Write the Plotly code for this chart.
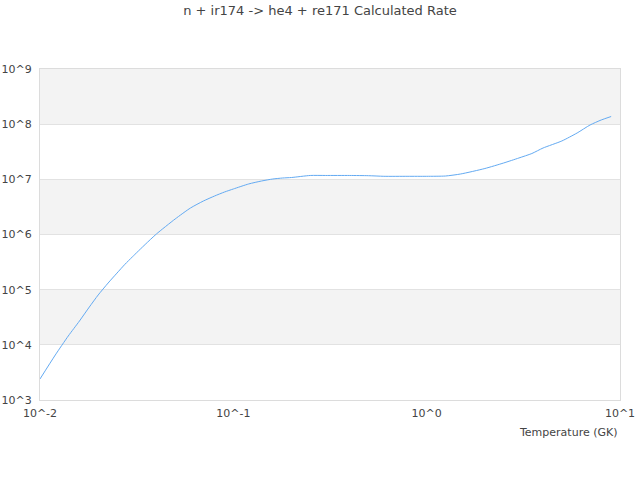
import plotly.graph_objects as go

title = "n + ir174 -> he4 + re171 Calculated Rate"
x_title = "Temperature (GK)"

temperature = [0.01, 0.012, 0.014, 0.016, 0.018, 0.02, 0.0225, 0.025, 0.0275, 0.03,
               0.035, 0.04, 0.05, 0.06, 0.07, 0.08, 0.09, 0.1, 0.12, 0.14,
               0.16, 0.18, 0.2, 0.25, 0.3, 0.4, 0.5, 0.6, 0.8, 1.0,
               1.25, 1.5, 2.0, 2.5, 3.0, 3.5, 4.0, 5.0, 6.0, 7.0,
               8.0, 9.0]
log_rate = [3.381, 3.816, 4.16, 4.432, 4.686, 4.904, 5.12, 5.3, 5.46, 5.592,
            5.82, 6.009, 6.281, 6.48, 6.607, 6.698, 6.77, 6.825, 6.916, 6.97,
            7.006, 7.024, 7.033, 7.07, 7.07, 7.07, 7.066, 7.055, 7.055, 7.055,
            7.06, 7.097, 7.196, 7.296, 7.387, 7.468, 7.568, 7.695, 7.84, 7.985,
            8.076, 8.139]
rate = [10 ** v for v in log_rate]

x_tick_vals = [0.01, 0.1, 1, 10]
x_tick_text = ["10^-2", "10^-1", "10^0", "10^1"]
y_decades = [3, 4, 5, 6, 7, 8, 9]
y_tick_vals = [10 ** d for d in y_decades]
y_tick_text = ["10^%d" % d for d in y_decades]

fig = go.Figure()
fig.add_trace(go.Scatter(x=temperature, y=rate, mode="lines",
                         line=dict(color="#63aaf2", width=1, shape="spline", smoothing=0.6),
                         hoverinfo="x+y"))

shapes = []
for d in y_decades[:-1]:
    if (9 - d) % 2 == 1:
        shapes.append(dict(type="rect", xref="paper", yref="y", x0=0, x1=1,
                           y0=10 ** d, y1=10 ** (d + 1), fillcolor="#f3f3f3",
                           line=dict(width=0), layer="below"))

font = "DejaVu Sans, sans-serif"
fig.update_layout(
    width=640, height=480,
    margin=dict(l=40, r=20, t=69, b=80, autoexpand=False),
    paper_bgcolor="white", plot_bgcolor="white",
    title=dict(text=title, x=0.5, xanchor="center", y=1 - 6 / 480, yanchor="top",
               font=dict(family=font, size=13, color="#444")),
    showlegend=False,
    shapes=shapes,
    xaxis=dict(type="log", range=[-2, 1], tickvals=x_tick_vals, ticktext=x_tick_text,
               showgrid=False, showline=True, mirror=True, linecolor="#dcdcdc",
               linewidth=1, ticks="outside", ticklen=3, tickcolor="rgba(0,0,0,0)",
               zeroline=False, automargin=False,
               tickfont=dict(family=font, size=11, color="#444")),
    yaxis=dict(type="log", range=[3, 9], tickvals=y_tick_vals, ticktext=y_tick_text,
               showgrid=True, gridcolor="#e2e2e2", showline=True, mirror=True,
               linecolor="#dcdcdc", linewidth=1, ticks="outside", ticklen=5,
               tickcolor="rgba(0,0,0,0)", zeroline=False, automargin=False,
               tickfont=dict(family=font, size=11, color="#444")),
    annotations=[dict(text=x_title, xref="paper", yref="paper", x=1, y=0,
                      xanchor="right", yanchor="top", yshift=-24, showarrow=False,
                      font=dict(family=font, size=11, color="#444"))],
)

fig.write_html("out.html", config={"displayModeBar": False},
               post_script="document.body.style.margin='0';document.body.style.padding='0';")
